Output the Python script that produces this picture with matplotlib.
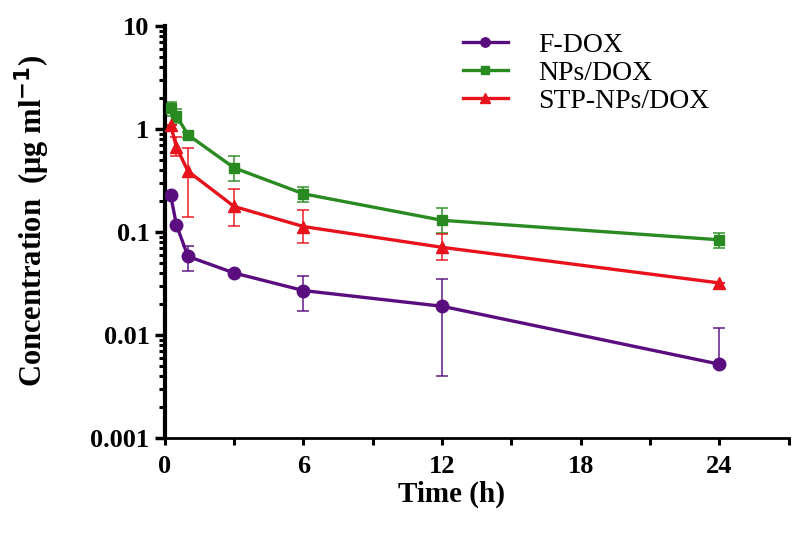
import matplotlib
matplotlib.use("Agg")
import matplotlib.pyplot as plt
import numpy as np
from matplotlib.ticker import LogLocator, NullFormatter, FixedLocator

times = [0.25, 0.5, 1, 3, 6, 12, 24]

fdox = [0.23, 0.118, 0.058, 0.040, 0.027, 0.019, 0.0052]
fdox_lo = [0.0, 0.0, 0.016, 0.0, 0.010, 0.015, 0.0]
fdox_hi = [0.0, 0.0, 0.015, 0.0, 0.010, 0.016, 0.0066]

nps = [1.6, 1.35, 0.88, 0.42, 0.235, 0.13, 0.084]
nps_lo = [0.25, 0.2, 0.06, 0.11, 0.04, 0.032, 0.014]
nps_hi = [0.25, 0.2, 0.06, 0.13, 0.04, 0.042, 0.014]

stp = [1.1, 0.67, 0.39, 0.177, 0.113, 0.071, 0.032]
stp_lo = [0.0, 0.12, 0.25, 0.063, 0.034, 0.017, 0.0]
stp_hi = [0.0, 0.17, 0.27, 0.083, 0.050, 0.024, 0.0]

labels = ["F-DOX", "NPs/DOX", "STP-NPs/DOX"]
colors = ["#5a0d7e", "#2a8a22", "#e8121c"]
markers = ["o", "s", "^"]
msizes = [9, 7.5, 9]

serif = ["Liberation Serif", "DejaVu Serif"]

fig = plt.figure(figsize=(8, 5.44), dpi=100)
ax = fig.add_axes([0.206, 0.195, 0.780, 0.757])

series = [(fdox, fdox_lo, fdox_hi), (nps, nps_lo, nps_hi), (stp, stp_lo, stp_hi)]
for (vals, lo, hi), lab, c, m, ms in zip(series, labels, colors, markers, msizes):
    ax.errorbar(times, vals, yerr=[lo, hi], color=c, ecolor=c, elinewidth=1.3,
                capsize=4, capthick=1.3, fmt="none", alpha=0.8, zorder=2)
    ax.plot(times, vals, color=c, marker=m, markersize=ms,
            linewidth=2.4, label=lab, zorder=3)

ax.set_yscale("log")
ax.set_ylim(0.001, 10)
ax.set_xlim(0, 27)
ax.xaxis.set_major_locator(FixedLocator([0, 6, 12, 18, 24]))
ax.xaxis.set_minor_locator(FixedLocator([3, 9, 15, 21, 27]))
ax.yaxis.set_minor_locator(LogLocator(base=10, subs=np.arange(2, 10), numticks=20))
ax.yaxis.set_minor_formatter(NullFormatter())
ax.set_yticks([0.001, 0.01, 0.1, 1, 10])
ax.set_yticklabels(["0.001", "0.01", "0.1", "1", "10"])

for s in ["top", "right"]:
    ax.spines[s].set_visible(False)
ax.spines["left"].set_linewidth(3)
ax.spines["bottom"].set_linewidth(2)

ax.tick_params(axis="y", which="major", direction="out", length=7, width=2.5,
               labelsize=19, pad=4)
ax.tick_params(axis="y", which="minor", direction="out", length=4.5, width=2.2)
ax.tick_params(axis="x", which="both", direction="out", length=5, width=2.2,
               labelsize=19, pad=7)
for lab in ax.get_xticklabels() + ax.get_yticklabels():
    lab.set_fontfamily(serif)
    lab.set_fontweight("bold")

ax.set_xlabel("Time (h)", fontsize=21, fontweight="bold", family=serif)
ax.xaxis.set_label_coords(0.46, -0.104)
ax.set_ylabel("Concentration  (\u03bcg ml$^{\\mathbf{-1}}$)", fontsize=22,
              fontweight="bold", family=serif)
ax.yaxis.set_label_coords(-0.18, 0.527)

leg = ax.legend(loc="upper left", bbox_to_anchor=(0.478, 0.985), frameon=False,
                prop={"family": serif, "size": 20}, handlelength=1.6,
                handletextpad=1.1, labelspacing=0.1, borderpad=0,
                borderaxespad=0, markerscale=0.75)

fig.savefig("out.png", dpi=100)
